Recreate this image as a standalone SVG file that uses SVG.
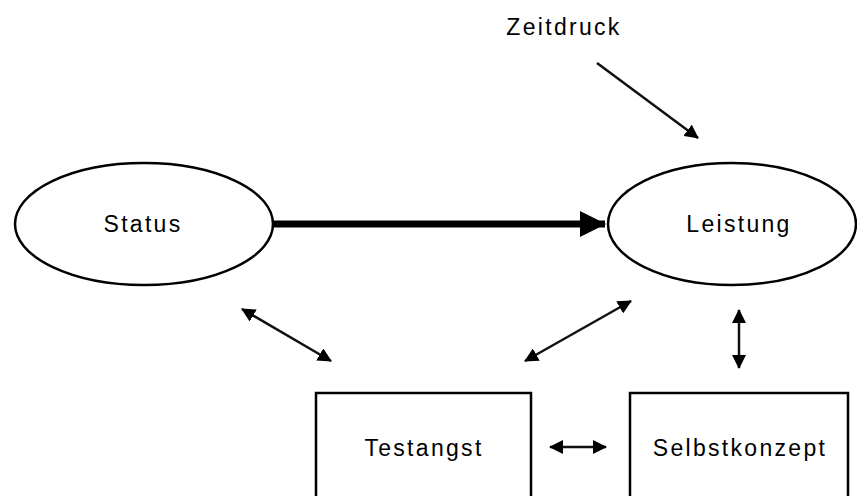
<svg xmlns="http://www.w3.org/2000/svg" width="857" height="496" viewBox="0 0 857 496">
<style>
.node{fill:#fff;stroke:#000;stroke-width:2.5}
.lbl{font-family:"Liberation Sans",Arial,sans-serif;font-size:23px;letter-spacing:2.3px;fill:#000;text-anchor:middle}
.con{stroke:#111;stroke-width:2.5;fill:none}
.thick{stroke:#000;stroke-width:7;fill:none}
</style>
<defs>
<marker id="ah" markerUnits="userSpaceOnUse" markerWidth="14" markerHeight="14" refX="13" refY="7" orient="auto-start-reverse" viewBox="0 0 14 14">
<path d="M0,0 L14,7 L0,14 z" fill="#000"/>
</marker>
<marker id="ahBig" markerUnits="userSpaceOnUse" markerWidth="26" markerHeight="26" refX="25" refY="13" orient="auto" viewBox="0 0 26 26">
<path d="M0,0 L26,13 L0,26 z" fill="#000"/>
</marker>
</defs>
<rect width="857" height="496" fill="#fff"/>
<g id="connectors">
<line class="thick" x1="274" y1="224" x2="605" y2="224" marker-end="url(#ahBig)"/>
<line class="con" x1="597" y1="63" x2="698" y2="138" marker-end="url(#ah)"/>
<line class="con" x1="242" y1="309" x2="331" y2="361" marker-start="url(#ah)" marker-end="url(#ah)"/>
<line class="con" x1="525" y1="361" x2="631" y2="301" marker-start="url(#ah)" marker-end="url(#ah)"/>
<line class="con" x1="550" y1="447" x2="606" y2="447" marker-start="url(#ah)" marker-end="url(#ah)"/>
<line class="con" x1="739" y1="310" x2="739" y2="368" marker-start="url(#ah)" marker-end="url(#ah)"/>
</g>
<g id="zeitdruck">
<text class="lbl" x="564" y="35">Zeitdruck</text>
</g>
<g id="status">
<ellipse class="node" cx="144" cy="224" rx="129" ry="61"/>
<text class="lbl" x="143" y="232">Status</text>
</g>
<g id="leistung">
<ellipse class="node" cx="732" cy="224" rx="124" ry="61"/>
<text class="lbl" x="739" y="232">Leistung</text>
</g>
<g id="testangst">
<rect class="node" x="316" y="393" width="215" height="110"/>
<text class="lbl" x="424" y="456">Testangst</text>
</g>
<g id="selbstkonzept">
<rect class="node" x="630" y="393" width="218" height="110"/>
<text class="lbl" x="740" y="456">Selbstkonzept</text>
</g>
</svg>
